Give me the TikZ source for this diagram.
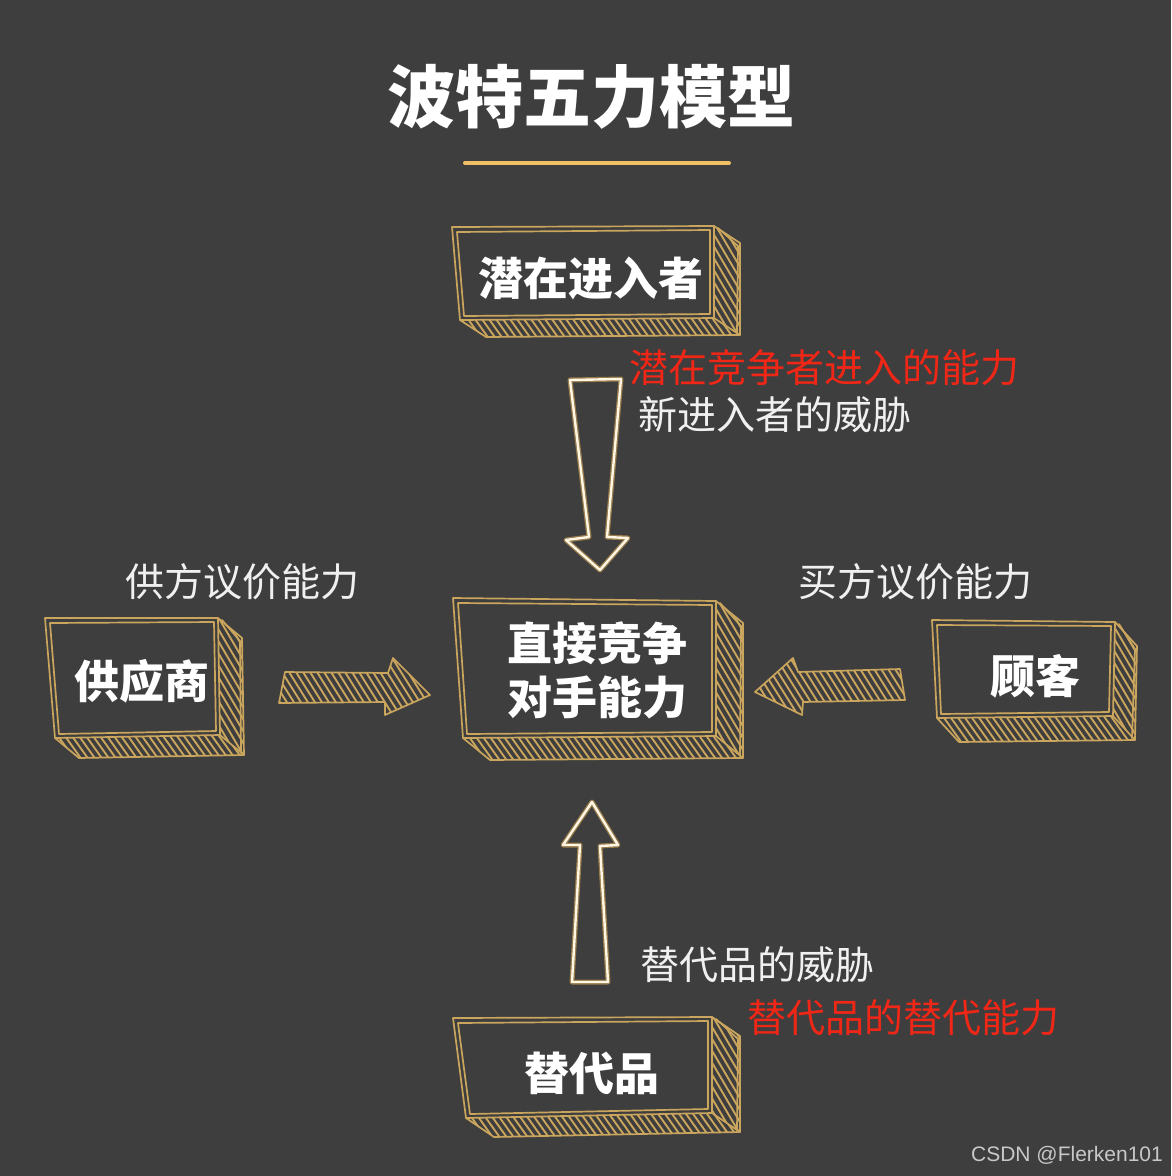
\documentclass[tikz,border=0pt]{standalone}
\usepackage{fontspec}
\setmainfont{Noto Sans CJK SC}
\newfontfamily\latin{Liberation Sans}
\usetikzlibrary{calc}
\definecolor{bg}{RGB}{62,62,62}
\definecolor{gold}{RGB}{202,165,94}
\definecolor{linegold}{RGB}{240,190,100}
\definecolor{cream}{RGB}{255,246,228}
\definecolor{glow}{RGB}{225,175,90}
\definecolor{lbl}{RGB}{240,240,240}
\definecolor{redlbl}{RGB}{240,38,22}
\definecolor{wmark}{RGB}{200,200,200}

\newcommand\hatchface[3]{%
  \begin{scope}
    \clip #1;
    \coordinate (hc) at #2;
    \foreach \x in {-301,-294,...,301}
      \draw[hatch] ($(hc)+(\x-100,-#3*100)$) -- ++(200,#3*200);
  \end{scope}}

\newcommand\sketchbox[3]{%
  \coordinate (#1-tr2) at ($(#1-tr)+(#2,#3)$);
  \coordinate (#1-br2) at ($(#1-br)+(#2,#3)$);
  \coordinate (#1-bl2) at ($(#1-bl)+(#2,#3)$);
  \hatchface{(#1-tr)--(#1-tr2)--(#1-br2)--(#1-br)--cycle}{($(#1-tr)!0.5!(#1-br2)$)}{1.7}
  \hatchface{(#1-bl)--(#1-br)--(#1-br2)--(#1-bl2)--cycle}{($(#1-bl)!0.5!(#1-br2)$)}{1.4}
  \draw[edge] (#1-tr)--(#1-tr2)--(#1-br2)--(#1-bl2)--(#1-bl);
  \draw[edge] (#1-br)--(#1-br2);
  \draw[edge,fill=bg] (#1-tl)--(#1-tr)--(#1-br)--(#1-bl)--cycle;
  \draw[edge] ($(#1-tl)+(5,5)$)--($(#1-tr)+(-4,4)$)--($(#1-br)+(-4,-4)$)--($(#1-bl)+(4,-4)$)--cycle;
  \draw[edge] ($(#1-tr)+(4,2)$)--($(#1-tr2)+(-2,3)$)--($(#1-br2)+(-3,-2)$);
}

\begin{document}
\begin{tikzpicture}[x=1pt,y=-1pt,
  edge/.style={draw=gold,line width=1.7pt,line join=round,line cap=round},
  hatch/.style={draw=gold,line width=1.9pt,line cap=round},
  boxtxt/.style={text=white,font=\bfseries\fontsize{45}{54}\selectfont,align=center,inner sep=0pt},
  lbltxt/.style={text=lbl,font=\fontsize{39}{46}\selectfont,inner sep=0pt},
  redtxt/.style={text=redlbl,font=\fontsize{39}{46}\selectfont,inner sep=0pt},
  glowline/.style={draw=glow,line width=5pt,opacity=0.55,line join=round},
  creamline/.style={draw=cream,line width=2.4pt,line join=round},
  ]
\fill[bg] (0,0) rectangle (1171,1176);
\useasboundingbox (0,0) rectangle (1171,1176);

% title
\node[text=white,font=\bfseries\fontsize{68}{80}\selectfont,inner sep=0pt] (title) at (591,97) {波特五力模型};
\coordinate (ul1) at (465,163);
\coordinate (ul2) at (729,163);
\draw[linegold,line width=4pt,line cap=round] (ul1) -- (ul2);

% boxes
\coordinate (top-tl) at (452,227); \coordinate (top-tr) at (714,226);
\coordinate (top-br) at (714,318); \coordinate (top-bl) at (460,320);
\sketchbox{top}{26}{17}
\node[boxtxt] (topt) at (591,278) {潜在进入者};

\coordinate (mid-tl) at (453,598); \coordinate (mid-tr) at (716,601);
\coordinate (mid-br) at (716,736); \coordinate (mid-bl) at (463,738);
\sketchbox{mid}{27}{22}
\node[boxtxt] (midt) at (597,670) {直接竞争\\对手能力};

\coordinate (sup-tl) at (45,618); \coordinate (sup-tr) at (218,618);
\coordinate (sup-br) at (220,735); \coordinate (sup-bl) at (55,738);
\sketchbox{sup}{24}{20}
\node[boxtxt] (supt) at (142,681) {供应商};

\coordinate (cus-tl) at (932,620); \coordinate (cus-tr) at (1115,622);
\coordinate (cus-br) at (1113,716); \coordinate (cus-bl) at (937,718);
\sketchbox{cus}{22}{24}
\node[boxtxt] (cust) at (1035,676) {顾客};

\coordinate (sub-tl) at (453,1018); \coordinate (sub-tr) at (712,1017);
\coordinate (sub-br) at (712,1113); \coordinate (sub-bl) at (466,1118);
\sketchbox{sub}{28}{19}
\node[boxtxt] (subt) at (592,1073) {替代品};

% vertical hollow arrows
\foreach \st in {glowline,creamline}{
  \draw[\st] (570,380) -- (621,379) -- (607,537) -- (628,538) -- (600,570) -- (566,540) -- (589,537) -- cycle;
  \draw[\st] (592,802) -- (618,845) -- (600,846) -- (608,982) -- (572,982) -- (580,845) -- (563,845) -- cycle;
}

% horizontal hatched arrows
\hatchface{(285,672) -- (388,673) -- (393,658) -- (430,695) -- (385,715) -- (385,702) -- (279,703) -- cycle}{(355,688)}{1.6}
\draw[edge] (285,672) -- (388,673) -- (393,658) -- (430,695) -- (385,715) -- (385,702) -- (279,703) -- cycle;
\hatchface{(755,692) -- (793,658) -- (798,672) -- (900,669) -- (905,700) -- (803,702) -- (802,715) -- cycle}{(830,688)}{1.6}
\draw[edge] (755,692) -- (793,658) -- (798,672) -- (900,669) -- (905,700) -- (803,702) -- (802,715) -- cycle;

% labels
\node[redtxt] (l1) at (824,368) {潜在竞争者进入的能力};
\node[lbltxt] (l2) at (775,415) {新进入者的威胁};
\node[lbltxt] (l3) at (242,582) {供方议价能力};
\node[lbltxt] (l4) at (915,582) {买方议价能力};
\node[lbltxt] (l5) at (757,965) {替代品的威胁};
\node[redtxt] (l6) at (903,1018) {替代品的替代能力};
\node[text=wmark,font=\latin\fontsize{21}{24}\selectfont,inner sep=0pt] (wm) at (1067,1155) {CSDN @Flerken101};
\end{tikzpicture}
\end{document}
